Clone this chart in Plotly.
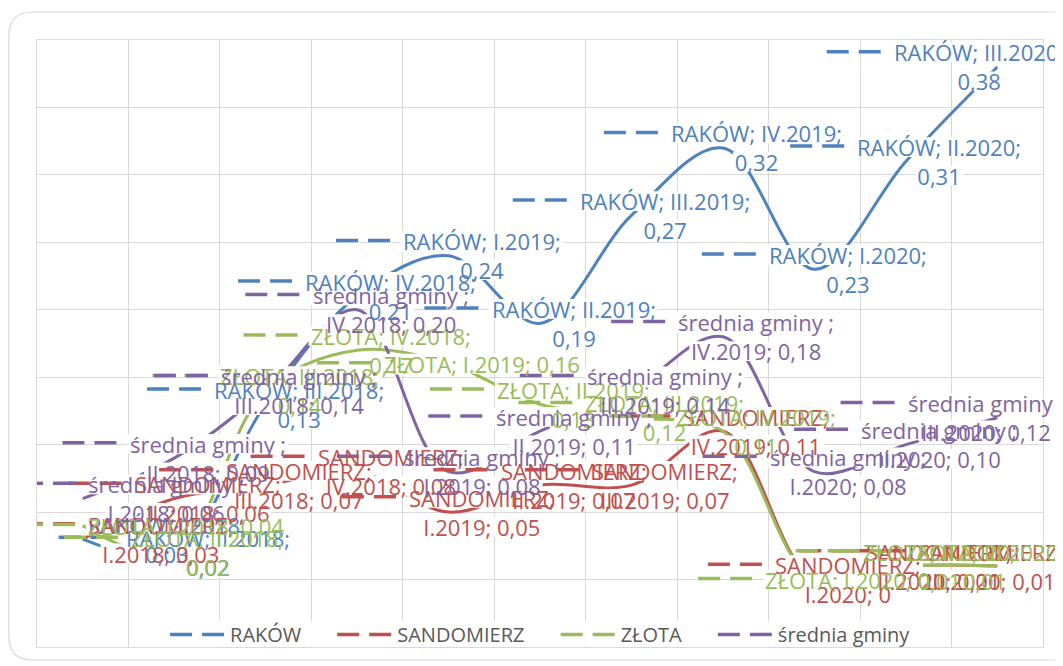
import plotly.graph_objects as go

# ---------------- data ----------------
categories = ["I.2018", "II.2018", "III.2018", "IV.2018", "I.2019", "II.2019",
              "III.2019", "IV.2019", "I.2020", "II.2020", "III.2020"]
rakow = [0.03, 0.02, 0.13, 0.21, 0.24, 0.19, 0.27, 0.32, 0.23, 0.31, 0.38]
sandomierz = [0.03, 0.06, 0.07, 0.08, 0.05, 0.07, 0.07, 0.11, 0.00, 0.01, 0.01]
zlota = [0.04, 0.02, 0.14, 0.17, 0.16, 0.13, 0.12, 0.11, 0.00, 0.01, 0.01]
srednia = [0.06, 0.09, 0.14, 0.20, 0.08, 0.11, 0.14, 0.18, 0.08, 0.10, 0.12]
series_names = ["RAKÓW", "SANDOMIERZ", "ZŁOTA", "średnia gminy"]

# ---------------- style ----------------
series_values = [rakow, sandomierz, zlota, srednia]
colors = ["#4F81BD", "#C0504D", "#9BBB59", "#8064A2"]
GRID = "#D9D9D9"
FONT = "Open Sans"
FS = 22
LEG_FS = 20
LINE_H = FS * 1.3
W, H = 1055, 658           # page body has an 8px margin
ML, MR, MT, MB = 29, 20, 32, 19
PW, PH = W - ML - MR, H - MT - MB
YMIN, YMAX = -0.05, 0.40
KEY_LEN, KEY_GAP = 55, 12
CHART_LEFT, CHART_RIGHT = 13, 1056
DASH = "22px,10px"

CW = {"A": 633, "B": 648, "C": 631, "D": 729, "E": 556, "F": 516, "G": 728,
      "H": 738, "I": 279, "J": 267, "K": 614, "L": 519, "M": 903, "N": 754,
      "O": 779, "P": 602, "Q": 779, "R": 618, "S": 549, "T": 553, "U": 728,
      "V": 593, "W": 914, "X": 577, "Y": 560, "Z": 571, "Ó": 779, "Ł": 524,
      "a": 556, "b": 613, "c": 482, "d": 613, "e": 561, "f": 337, "g": 547,
      "h": 614, "i": 252, "j": 252, "k": 529, "l": 252, "m": 931, "n": 614,
      "o": 603, "p": 613, "r": 408, "s": 477, "t": 353, "u": 614, "w": 797,
      "y": 501, "z": 468, "ś": 477, ".": 266, ",": 245, ";": 266, " ": 260}
for d in "0123456789":
    CW[d] = 572


def text_w(s, size=FS):
    return sum(CW.get(c, 580) for c in s) * size / 1000.0


def fmt(v):
    return "0" if v == 0 else f"{v:.2f}".replace(".", ",")


def label_lines(si, cat, v):
    name = series_names[si]
    if si == 0:
        return [f"{name}; {cat};", fmt(v)]
    if si == 1:
        return [f"{name};", f"{cat}; {fmt(v)}"]
    if si == 2:
        if cat.startswith("I."):
            return [f"{name}; {cat}; {fmt(v)}"]
        return [f"{name}; {cat};", fmt(v)]
    return [f"{name} ;", f"{cat}; {fmt(v)}"]


fig = go.Figure()

# series lines (smoothed, solid)
for name, vals, col in zip(series_names, series_values, colors):
    fig.add_trace(go.Scatter(x=categories, y=vals, mode="lines", name=name,
                             line=dict(color=col, width=3, shape="spline", smoothing=1),
                             showlegend=False, hoverinfo="x+y+name"))
# legend entries (dashed keys)
for name, col in zip(series_names, colors):
    fig.add_trace(go.Scatter(x=[None], y=[None], mode="lines", name=name,
                             line=dict(color=col, width=3.5, dash=DASH),
                             legendwidth=text_w(name, LEG_FS) + 26,
                             showlegend=True))

boxes, keys, annotations = [], [], []
for si, (vals, col) in enumerate(zip(series_values, colors)):
    for i, (cat, v) in enumerate(zip(categories, vals)):
        lines = label_lines(si, cat, v)
        n = len(lines)
        tw = max(text_w(l) for l in lines)
        px = ML + (i + 0.5) * PW / len(categories)
        block_w = KEY_LEN + KEY_GAP + tw
        left = px - block_w / 2
        left = max(left, CHART_LEFT)
        if left + block_w > CHART_RIGHT:
            left = CHART_RIGHT - block_w
        text_cx = left + KEY_LEN + KEY_GAP + tw / 2
        dx = text_cx - px
        first_up = (n - 1) * LINE_H / 2
        for k, l in enumerate(lines):
            yc = first_up - k * LINE_H
            w = text_w(l) + 4
            h = FS * 0.9
            boxes.append(dict(type="rect", xref="x", yref="y", xsizemode="pixel",
                              ysizemode="pixel", xanchor=cat, yanchor=v,
                              x0=dx - w / 2, x1=dx + w / 2, y0=yc - h / 2, y1=yc + h / 2,
                              fillcolor="white", line=dict(width=0), layer="above"))
        kx0 = left - px
        keys.append(dict(type="line", xref="x", yref="y", xsizemode="pixel",
                         ysizemode="pixel", xanchor=cat, yanchor=v,
                         x0=kx0, x1=kx0 + KEY_LEN, y0=first_up + 1, y1=first_up + 1,
                         line=dict(color=col, width=3.5, dash=DASH), layer="above"))
        annotations.append(dict(x=cat, y=v, xref="x", yref="y", text="<br>".join(lines),
                                showarrow=False, xanchor="center", yanchor="middle",
                                xshift=dx, align="center", borderpad=0,
                                font=dict(family=FONT, size=FS, color=col)))


# chart-area rounded border
def to_paper(xp, yp):
    return (xp - ML) / PW, (H - MB - yp) / PH


bx0, by0, bx1, by1, r = 0.8, 4, 1075, 652, 24
x0p, y0p = to_paper(bx0, by0)
x1p, y1p = to_paper(bx1, by1)
rx, ry = r / PW, r / PH
path = (f"M{x0p + rx},{y0p} L{x1p - rx},{y0p} Q{x1p},{y0p} {x1p},{y0p - ry} "
        f"L{x1p},{y1p + ry} Q{x1p},{y1p} {x1p - rx},{y1p} L{x0p + rx},{y1p} "
        f"Q{x0p},{y1p} {x0p},{y1p + ry} L{x0p},{y0p - ry} Q{x0p},{y0p} {x0p + rx},{y0p} Z")
border = dict(type="path", xref="paper", yref="paper", path=path,
              line=dict(color=GRID, width=1.2), layer="below")

# white patch behind the legend (keeps the bottom plot border visible)
lx0, ly0 = to_paper(157, 613)
lx1, ly1 = to_paper(907, 638)
legend_bg = dict(type="rect", xref="paper", yref="paper", x0=lx0, x1=lx1, y0=ly1, y1=ly0,
                 fillcolor="white", line=dict(width=0), layer="above")

fig.update_layout(
    width=W, height=H,
    margin=dict(l=ML, r=MR, t=MT, b=MB, autoexpand=False),
    paper_bgcolor="white", plot_bgcolor="white",
    font=dict(family=FONT, size=FS),
    xaxis=dict(type="category", categoryorder="array", categoryarray=categories,
               tickson="boundaries", showgrid=True, gridcolor=GRID, gridwidth=1,
               showticklabels=False, ticks="", showline=True, linecolor=GRID,
               mirror=True, range=[-0.5, len(categories) - 0.5], zeroline=False),
    yaxis=dict(range=[YMIN, YMAX], dtick=0.05, tick0=0, showgrid=True, gridcolor=GRID,
               showticklabels=False, ticks="", showline=True, linecolor=GRID,
               mirror=True, zeroline=False),
    legend=dict(orientation="h", x=0.513, xanchor="center", y=-0.0115, yanchor="bottom",
                font=dict(family=FONT, size=LEG_FS, color="#595959"), itemwidth=55,
                bgcolor="rgba(0,0,0,0)", borderwidth=0),
    shapes=[border, legend_bg] + boxes + keys,
    annotations=annotations,
    showlegend=True,
)

fig.write_html("out.html")
